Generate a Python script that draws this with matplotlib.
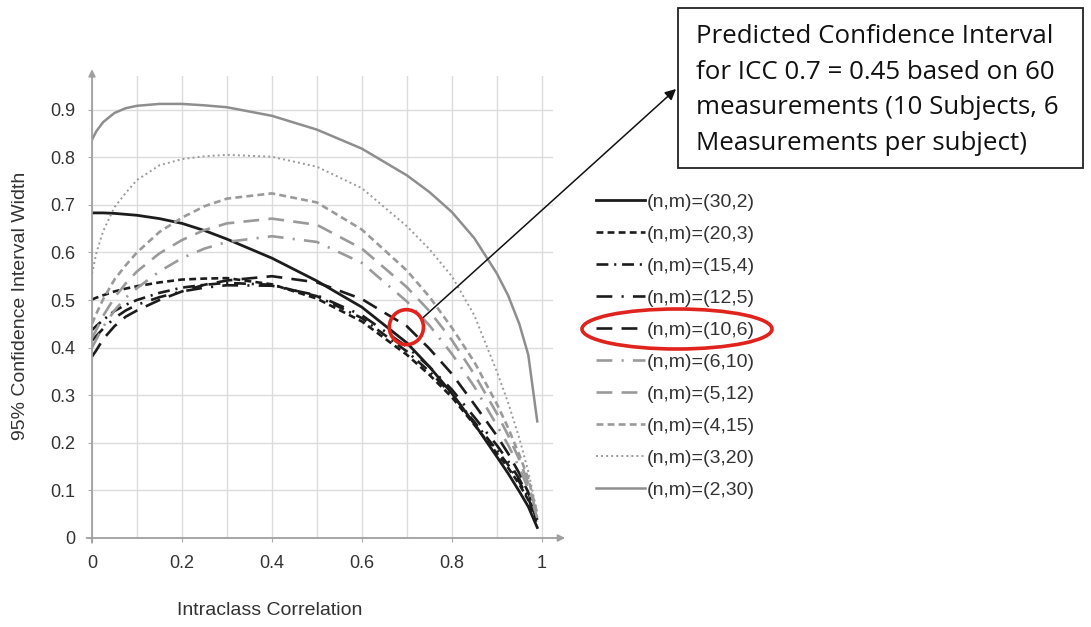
import matplotlib
matplotlib.use("Agg")
import matplotlib.pyplot as plt
from matplotlib.patches import Ellipse, Rectangle

icc = [0, 0.01, 0.025, 0.05, 0.075, 0.1, 0.15, 0.2, 0.25, 0.3, 0.4, 0.5, 0.6, 0.7,
       0.75, 0.8, 0.85, 0.9, 0.925, 0.95, 0.97, 0.99]

# 95% CI width for each (n subjects, m measurements) design
w_30_2 = [0.683, 0.683, 0.683, 0.682, 0.680, 0.678, 0.671, 0.661, 0.646, 0.628, 0.588, 0.540, 0.485, 0.410,
          0.360, 0.304, 0.240, 0.171, 0.136, 0.098, 0.066, 0.022]
w_20_3 = [0.501, 0.505, 0.510, 0.518, 0.524, 0.529, 0.537, 0.543, 0.545, 0.546, 0.533, 0.503, 0.455, 0.385,
          0.343, 0.296, 0.238, 0.178, 0.148, 0.113, 0.080, 0.028]
w_15_4 = [0.437, 0.446, 0.458, 0.477, 0.490, 0.500, 0.515, 0.526, 0.532, 0.536, 0.532, 0.508, 0.462, 0.392,
          0.350, 0.302, 0.244, 0.185, 0.154, 0.118, 0.084, 0.032]
w_12_5 = [0.415, 0.425, 0.440, 0.462, 0.478, 0.490, 0.506, 0.518, 0.526, 0.531, 0.530, 0.510, 0.468, 0.402,
          0.360, 0.312, 0.254, 0.195, 0.162, 0.124, 0.088, 0.035]
w_10_6 = [0.381, 0.395, 0.418, 0.445, 0.465, 0.478, 0.500, 0.518, 0.532, 0.541, 0.550, 0.537, 0.502, 0.445,
          0.398, 0.345, 0.281, 0.215, 0.178, 0.136, 0.096, 0.038]
w_6_10 = [0.400, 0.418, 0.444, 0.478, 0.505, 0.525, 0.560, 0.588, 0.608, 0.622, 0.634, 0.622, 0.578, 0.497,
          0.447, 0.387, 0.318, 0.237, 0.196, 0.148, 0.103, 0.042]
w_5_12 = [0.420, 0.438, 0.467, 0.505, 0.535, 0.560, 0.598, 0.626, 0.647, 0.661, 0.671, 0.658, 0.608, 0.527,
          0.477, 0.416, 0.344, 0.262, 0.216, 0.165, 0.115, 0.046]
w_4_15 = [0.450, 0.472, 0.502, 0.543, 0.573, 0.600, 0.643, 0.673, 0.697, 0.713, 0.724, 0.705, 0.648, 0.562,
          0.507, 0.442, 0.370, 0.282, 0.232, 0.175, 0.125, 0.050]
w_3_20 = [0.555, 0.600, 0.645, 0.695, 0.725, 0.752, 0.783, 0.796, 0.802, 0.805, 0.801, 0.780, 0.735, 0.655,
          0.607, 0.550, 0.468, 0.350, 0.285, 0.210, 0.140, 0.052]
w_2_30 = [0.837, 0.855, 0.874, 0.893, 0.903, 0.908, 0.912, 0.912, 0.909, 0.905, 0.887, 0.858, 0.818, 0.762,
          0.727, 0.685, 0.630, 0.556, 0.510, 0.450, 0.385, 0.245]

labels = ["(n,m)=(30,2)", "(n,m)=(20,3)", "(n,m)=(15,4)", "(n,m)=(12,5)", "(n,m)=(10,6)",
          "(n,m)=(6,10)", "(n,m)=(5,12)", "(n,m)=(4,15)", "(n,m)=(3,20)", "(n,m)=(2,30)"]

x_ticks = [0, 0.2, 0.4, 0.6, 0.8, 1]
x_tick_labels = ["0", "0.2", "0.4", "0.6", "0.8", "1"]
y_ticks = [0, 0.1, 0.2, 0.3, 0.4, 0.5, 0.6, 0.7, 0.8, 0.9]
y_tick_labels = ["0", "0.1", "0.2", "0.3", "0.4", "0.5", "0.6", "0.7", "0.8", "0.9"]

note = ("Predicted Confidence Interval\n"
        "for ICC 0.7 = 0.45 based on 60\n"
        "measurements (10 Subjects, 6\n"
        "Measurements per subject)")

W, H = 1091, 627
BLACK = "#1c1c1c"
GRAY = "#9a9a9a"
TXT = "#333333"


def fx(px):
    return px / W


def fy(py):
    return 1 - py / H


def draw_curves(ax):
    series = [w_30_2, w_20_3, w_15_4, w_12_5, w_10_6, w_6_10, w_5_12, w_4_15, w_3_20, w_2_30]
    styles = [
        (BLACK, "-", 2.0),
        (BLACK, (0, (2.6, 1.6)), 1.9),
        (BLACK, (0, (4.5, 2.2, 0.8, 2.2)), 1.9),
        (BLACK, (0, (6, 3.5, 0.8, 3.5)), 1.9),
        (BLACK, (0, (6, 3.5)), 1.9),
        (GRAY, (0, (6, 3.5, 0.8, 3.5)), 1.9),
        (GRAY, (0, (6, 3.5)), 1.9),
        (GRAY, (0, (2.6, 1.6)), 1.9),
        (GRAY, (0, (1, 1.6)), 1.4),
        ("#8e8e8e", "-", 1.8),
    ]
    handles = []
    for vals, lab, (col, ls, lw) in zip(series, labels, styles):
        h, = ax.plot(icc, vals, color=col, linestyle=ls, linewidth=lw, label=lab)
        handles.append(h)
    return handles


def style_axes(ax):
    ax.set_xlim(0, 1.025)
    ax.set_ylim(0, 0.97)
    for s in ax.spines.values():
        s.set_visible(False)

    ax.set_xticks(x_ticks)
    ax.set_xticklabels(x_tick_labels)
    ax.set_xticks([0.1, 0.3, 0.5, 0.7, 0.9], minor=True)
    ax.set_yticks(y_ticks)
    ax.set_yticklabels(y_tick_labels)
    ax.tick_params(axis="both", which="both", length=3, color="#aaaaaa",
                   labelsize=13, labelcolor=TXT, pad=9)
    ax.tick_params(axis="x", which="minor", length=0)
    ax.grid(True, which="both", color="#dcdcdc", linewidth=1)
    ax.set_axisbelow(True)

    # axis lines with arrow heads
    arrow = dict(arrowstyle="-|>", color="#a0a0a0", lw=1.3, mutation_scale=10,
                 shrinkA=0, shrinkB=0)
    ax.annotate("", xy=(1.052, 0), xytext=(-0.012, 0), arrowprops=arrow, annotation_clip=False)
    ax.annotate("", xy=(0, 0.985), xytext=(0, -0.01), arrowprops=arrow, annotation_clip=False)

    ax.set_xlabel("Intraclass Correlation", fontsize=14, color=TXT)
    ax.xaxis.set_label_coords((270 - 92) / 461, (538 - 602) / 461.7)
    ax.set_ylabel("95% Confidence Interval Width", fontsize=14, color=TXT)
    ax.yaxis.set_label_coords((29 - 92) / 461, (538 - 306) / 461.7)


def main():
    plt.rcParams["font.family"] = ["Liberation Sans", "DejaVu Sans"]
    fig = plt.figure(figsize=(W / 100, H / 100), dpi=100)
    ax = fig.add_axes([fx(92), 1 - 538 / H, 461 / W, 461.7 / H])

    handles = draw_curves(ax)
    style_axes(ax)

    fig.legend(handles=handles, loc="upper left", bbox_to_anchor=(fx(596), fy(193)),
               frameon=False, fontsize=14, handlelength=2.5, handletextpad=0.1,
               labelspacing=0.74, borderpad=0, borderaxespad=0, labelcolor=TXT)

    # red highlight on the curve and on the legend entry
    ax.add_patch(Ellipse((0.699, 0.443), 0.076, 0.0735, fill=False, edgecolor="#e0231c",
                         linewidth=2.6, clip_on=False, zorder=5))
    fig.add_artist(Ellipse((fx(677), fy(329)), 190 / W, 40 / H, fill=False,
                           edgecolor="#e0231c", linewidth=2.6, transform=fig.transFigure))

    # annotation box
    fig.add_artist(Rectangle((fx(678), fy(168)), 405 / W, 160 / H, fill=True,
                             facecolor="white", edgecolor="#222222", linewidth=1.3,
                             transform=fig.transFigure))
    fig.text(fx(696), fy(90), note, fontsize=18.6, family=["Open Sans", "DejaVu Sans"],
             color="#111111", ha="left", va="center", linespacing=1.55)
    ax.annotate("", xy=(fx(676), fy(89)), xycoords="figure fraction",
                xytext=(0.735, 0.462), textcoords="data",
                arrowprops=dict(arrowstyle="-|>", color="#111111", lw=1.1,
                                mutation_scale=16, shrinkA=0, shrinkB=0),
                annotation_clip=False)

    fig.savefig("out.png", dpi=100)
    plt.close(fig)


if __name__ == "__main__":
    main()
